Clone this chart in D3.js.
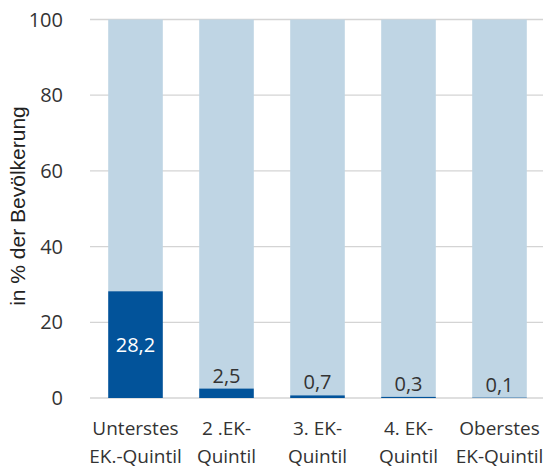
<!DOCTYPE html>
<html><head><meta charset="utf-8">
<script src="https://cdn.jsdelivr.net/npm/d3@7"></script>
<style>body{margin:0;background:#fff;} svg{display:block;}</style>
</head><body>
<script>
const categories = [["Unterstes","EK.-Quintil"],["2 .EK-","Quintil"],["3. EK-","Quintil"],["4. EK-","Quintil"],["Oberstes","EK-Quintil"]];
const values = [28.2, 2.5, 0.7, 0.3, 0.1];
const valueLabels = ["28,2","2,5","0,7","0,3","0,1"];
const yTicks = [0,20,40,60,80,100];

const W=545,H=469;
const m={l:90,r:0,t:19.5,b:71};
const svg=d3.select("body").append("svg").attr("width",W).attr("height",H);
const font="'Open Sans', sans-serif";
const x=d3.scaleBand().domain(d3.range(values.length)).range([m.l,W-m.r]).paddingInner(0.4).paddingOuter(0.2);
const y=d3.scaleLinear().domain([0,100]).range([H-m.b,m.t]);

const g=svg.append("g");
g.selectAll("line.grid").data(yTicks).join("line")
 .attr("x1",m.l).attr("x2",W-2).attr("y1",d=>y(d)).attr("y2",d=>y(d))
 .attr("stroke","#d4d4d4").attr("stroke-width",1.3);
g.selectAll("text.tick").data(yTicks).join("text")
 .attr("x",63).attr("y",d=>y(d)).attr("dy","0.35em").attr("text-anchor","end")
 .attr("font-family",font).attr("font-size",20).attr("fill","#333").text(d=>d);

g.selectAll("rect.bg").data(values).join("rect")
 .attr("x",(d,i)=>x(i)).attr("width",x.bandwidth())
 .attr("y",y(100)).attr("height",d=>y(d)-y(100)).attr("fill","#bfd5e4");
g.selectAll("rect.fg").data(values).join("rect")
 .attr("x",(d,i)=>x(i)).attr("width",x.bandwidth())
 .attr("y",d=>y(d)).attr("height",d=>y(0)-y(d)).attr("fill","#02539a");

g.selectAll("text.val").data(values).join("text")
 .attr("x",(d,i)=>x(i)+x.bandwidth()/2)
 .attr("y",d=>d>10?(y(d)+y(0))/2:y(d)-6)
 .attr("dy",d=>d>10?"0.35em":"0")
 .attr("text-anchor","middle").attr("font-family",font).attr("font-size",20)
 .attr("fill",d=>d>10?"#fff":"#333").text((d,i)=>valueLabels[i]);

categories.forEach((c,i)=>{
  c.forEach((line,j)=>{
    g.append("text").attr("x",x(i)+x.bandwidth()/2).attr("y",435+j*28)
     .attr("text-anchor","middle").attr("font-family",font).attr("font-size",19)
     .attr("fill","#333").text(line);
  });
});

svg.append("text").attr("transform",`translate(25,206) rotate(-90)`)
 .attr("text-anchor","middle").attr("font-family","'Liberation Sans', Arial, sans-serif").attr("font-size",21)
 .attr("fill","#222").text("in % der Bevölkerung");
</script>
</body></html>
